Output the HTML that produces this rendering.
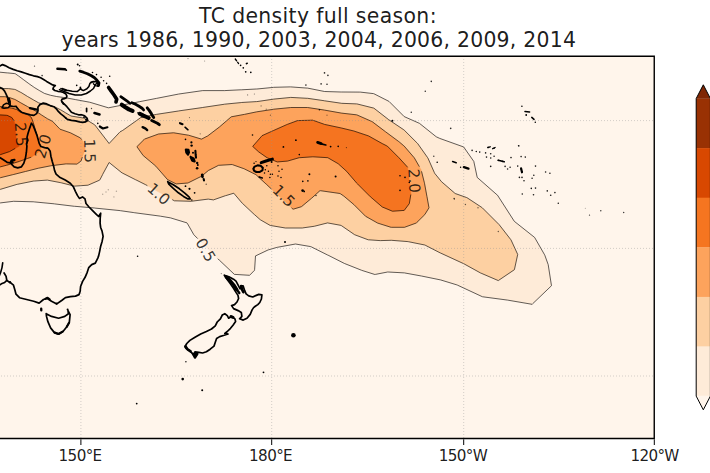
<!DOCTYPE html>
<html><head><meta charset="utf-8"><title>TC density full season</title>
<style>html,body{margin:0;padding:0;background:#fff;overflow:hidden}body{width:710px;height:473px;position:relative}</style>
</head><body>
<svg width="710" height="473" viewBox="0 0 710 473" style="position:absolute;left:0;top:0">
<defs><clipPath id="ax"><rect x="-20" y="56.1" width="674.3" height="382.9"/></clipPath></defs>
<rect x="-20" y="56.1" width="674.3" height="382.9" fill="#fff5eb"/>
<g clip-path="url(#ax)">
<path d="M-20.0,72.2 L0.0,72.2 L7.6,72.9 L15.2,73.7 L19.0,76.3 L24.1,80.1 L29.2,83.9 L34.2,87.4 L39.3,90.5 L44.4,93.4 L50.7,95.3 L57.0,96.6 L65.9,97.8 L76.0,99.7 L90.0,102.3 L108.5,107.8 L140.0,101.6 L156.9,98.3 L178.9,94.0 L202.5,90.6 L224.5,90.6 L241.4,89.8 L256.9,89.0 L273.8,87.3 L290.7,86.9 L307.6,88.1 L324.5,91.5 L341.4,92.0 L360.3,92.1 L373.8,93.7 L389.0,101.4 L404.2,116.6 L419.4,123.3 L436.3,136.8 L440.0,138.5 L463.7,147.0 L473.8,161.4 L477.2,177.4 L497.5,195.2 L514.4,221.4 L534.6,237.4 L544.8,255.2 L548.2,264.6 L551.5,285.7 L532.1,304.3 L507.6,300.1 L482.3,296.7 L456.9,284.9 L440.0,279.8 L421.4,276.0 L404.5,272.9 L387.6,272.0 L374.9,274.5 L361.4,270.2 L344.5,263.5 L327.6,255.0 L310.7,246.6 L295.5,244.0 L276.9,247.4 L268.2,249.9 L255.5,255.9 L254.6,270.2 L249.6,275.3 L234.4,274.4 L219.2,260.1 L193.8,234.7 L187.0,222.9 L170.1,217.8 L160.0,216.1 L133.8,212.6 L120.0,210.6 L94.6,208.0 L74.4,206.3 L54.1,203.8 L33.8,201.8 L13.5,201.3 L0.0,203.0 L-20.0,205.0Z" fill="#feebd8" stroke="#feebd8" stroke-width="0.4"/>
<path d="M-20.0,88.6 L0.0,88.6 L8.5,88.6 L15.2,89.5 L21.1,92.5 L27.9,96.7 L33.8,100.1 L38.9,103.0 L54.5,106.7 L60.8,109.9 L65.9,113.0 L71.0,116.0 L83.7,118.1 L94.9,125.0 L109.1,143.5 L120.0,131.9 L123.0,130.2 L140.7,117.6 L156.9,114.3 L178.9,110.9 L202.5,107.5 L224.5,104.2 L241.4,102.5 L256.9,101.6 L273.8,99.1 L290.7,97.4 L307.6,98.3 L324.5,100.8 L341.4,103.3 L356.9,103.9 L373.8,108.1 L389.0,119.9 L404.2,130.1 L417.7,143.6 L427.9,158.0 L434.6,173.2 L441.4,181.6 L455.2,193.5 L467.0,197.7 L482.3,207.8 L499.2,224.7 L511.0,239.9 L517.7,254.5 L514.4,269.7 L498.3,280.6 L480.6,273.0 L463.7,263.7 L440.0,252.8 L424.8,245.0 L407.9,241.6 L391.0,240.3 L380.0,240.6 L368.2,239.8 L354.6,234.7 L341.1,225.4 L327.6,222.9 L314.1,226.3 L302.3,228.0 L285.4,228.0 L270.1,225.4 L260.0,219.5 L254.1,214.3 L242.3,203.3 L233.8,193.2 L225.4,195.7 L213.5,199.9 L208.2,199.1 L191.3,201.3 L174.4,200.8 L145.6,184.7 L135.5,179.7 L122.0,172.9 L109.1,162.5 L102.5,174.8 L99.7,180.1 L87.9,185.2 L74.4,186.1 L60.8,182.7 L47.3,180.1 L33.8,181.0 L16.9,184.4 L0.0,189.4 L-20.0,194.0Z" fill="#fdd0a2" stroke="#fdd0a2" stroke-width="0.4"/>
<path d="M-20.0,96.7 L0.0,96.7 L5.1,96.7 L9.3,97.5 L15.2,99.6 L21.1,103.0 L27.9,106.8 L35.5,111.0 L41.4,114.9 L47.3,118.7 L52.4,121.2 L60.0,129.2 L70.6,132.9 L80.1,137.7 L82.7,140.8 L85.3,149.3 L82.0,158.0 L81.1,161.0 L76.9,164.1 L65.9,163.9 L50.7,165.8 L38.0,168.3 L25.4,171.5 L12.7,174.7 L0.0,177.8 L-20.0,182.0Z" fill="#fda35c" stroke="#fda35c" stroke-width="0.4"/>
<path d="M136.9,146.7 L144.5,139.1 L158.5,134.0 L173.7,132.8 L188.9,135.3 L201.6,139.1 L207.6,136.0 L219.4,127.0 L231.3,116.8 L244.8,114.3 L256.9,111.8 L273.8,109.2 L290.7,107.5 L307.6,107.5 L324.5,110.1 L341.4,113.1 L356.9,114.9 L372.1,121.6 L385.6,131.8 L399.2,141.9 L404.2,146.1 L414.4,158.0 L421.1,169.8 L424.5,183.3 L427.0,196.8 L429.0,207.8 L424.8,214.6 L416.3,223.0 L404.5,227.3 L391.0,227.3 L377.5,223.0 L365.6,216.3 L353.8,204.5 L343.7,196.0 L340.0,193.5 L320.0,190.6 L311.5,198.3 L301.4,206.7 L293.0,209.2 L265.9,183.9 L255.8,174.6 L243.9,168.7 L232.1,164.5 L218.6,165.3 L208.5,170.4 L201.4,176.3 L187.9,183.0 L176.1,183.9 L167.6,179.7 L155.8,166.1 L143.2,155.6Z" fill="#fda35c" stroke="#fda35c" stroke-width="0.4"/>
<path d="M-20.0,106.6 L0.0,106.6 L5.1,107.2 L8.0,107.5 L12.1,108.2 L16.8,109.6 L19.5,111.6 L23.6,113.6 L28.3,115.0 L31.0,117.0 L32.3,119.7 L33.4,123.0 L36.0,132.0 L38.5,139.0 L40.6,146.6 L40.2,150.4 L35.5,154.5 L31.7,157.0 L27.2,158.6 L19.0,161.5 L12.7,163.4 L6.3,165.3 L0.0,166.9 L-20.0,171.0Z" fill="#f57520" stroke="#f57520" stroke-width="0.4"/>
<path d="M252.7,146.4 L262.0,135.7 L273.8,130.4 L287.3,124.4 L297.5,120.6 L312.7,120.2 L324.5,124.4 L341.4,128.0 L353.5,130.9 L368.7,136.0 L382.3,143.6 L387.3,146.1 L399.2,158.0 L407.6,167.3 L411.0,193.5 L409.3,203.6 L404.2,210.4 L392.4,211.2 L382.3,207.0 L370.4,196.8 L356.9,183.3 L346.8,171.5 L338.0,163.6 L327.9,157.7 L312.7,156.8 L299.2,157.7 L287.3,161.1 L277.2,161.9 L267.0,157.7 L258.6,151.8Z" fill="#f57520" stroke="#f57520" stroke-width="0.4"/>
<path d="M-20.0,114.9 L0.0,114.9 L7.1,115.3 L11.8,117.5 L14.2,121.0 L15.2,125.8 L15.6,134.0 L16.5,141.0 L19.2,146.2 L9.5,151.6 L0.0,154.8 L-20.0,160.0Z" fill="#d84801" stroke="#d84801" stroke-width="0.4"/>
<g fill="none" stroke="#000" stroke-width="0.8" stroke-opacity="0.78" stroke-linejoin="round">
<path d="M-20.0,72.2 L-0.5,72.2 L0.0,72.2 L0.0,72.2 L7.1,72.9 L7.6,72.9 L7.6,72.9 L14.7,73.6 L15.2,73.7 L15.2,73.7 L18.6,76.0 L19.0,76.3 L19.0,76.3 L23.7,79.8 L24.1,80.1 L24.1,80.1 L28.8,83.6 L29.2,83.9 L29.2,83.9 L33.8,87.1 L34.2,87.4 L34.2,87.4 L38.8,90.2 L39.3,90.5 L39.3,90.5 L43.9,93.1 L44.4,93.4 L44.4,93.4 L50.2,95.2 L50.7,95.3 L50.7,95.3 L56.5,96.5 L57.0,96.6 L57.0,96.6 L65.4,97.7 L65.9,97.8 L65.9,97.8 L75.5,99.6 L76.0,99.7 L76.0,99.7 L89.5,102.2 L90.0,102.3 L90.0,102.3 L108.0,107.7 L108.5,107.8 L108.5,107.8 L139.5,101.7 L140.0,101.6 L140.0,101.6 L156.4,98.4 L156.9,98.3 L156.9,98.3 L178.4,94.1 L178.9,94.0 L178.9,94.0 L202.0,90.7 L202.5,90.6 L202.5,90.6 L224.0,90.6 L224.5,90.6 L224.5,90.6 L240.9,89.8 L241.4,89.8 L241.4,89.8 L256.4,89.0 L256.9,89.0 L256.9,89.0 L273.3,87.4 L273.8,87.3 L273.8,87.3 L290.2,86.9 L290.7,86.9 L290.7,86.9 L307.1,88.1 L307.6,88.1 L307.6,88.1 L324.0,91.4 L324.5,91.5 L324.5,91.5 L340.9,92.0 L341.4,92.0 L341.4,92.0 L359.8,92.1 L360.3,92.1 L360.3,92.1 L373.3,93.6 L373.8,93.7 L373.8,93.7 L388.6,101.2 L389.0,101.4 L389.0,101.4 L403.8,116.2 L404.2,116.6 L404.2,116.6 L418.9,123.1 L419.4,123.3 L419.4,123.3 L435.9,136.5 L436.3,136.8 L436.3,136.8 L439.5,138.3 L440.0,138.5 L440.0,138.5 L463.2,146.8 L463.7,147.0 L463.7,147.0 L473.5,161.0 L473.8,161.4 L473.8,161.4 L477.1,176.9 L477.2,177.4 L477.2,177.4 L497.1,194.9 L497.5,195.2 L497.5,195.2 L514.1,221.0 L514.4,221.4 L514.4,221.4 L534.2,237.1 L534.6,237.4 L534.6,237.4 L544.6,254.8 L544.8,255.2 L544.8,255.2 L548.0,264.1 L548.2,264.6 L548.2,264.6 L551.4,285.2 L551.5,285.7 L551.5,285.7 L532.5,303.9 L532.1,304.3 L532.1,304.3 L508.1,300.2 L507.6,300.1 L507.6,300.1 L482.8,296.8 L482.3,296.7 L482.3,296.7 L457.4,285.1 L456.9,284.9 L456.9,284.9 L440.5,279.9 L440.0,279.8 L440.0,279.8 L421.9,276.1 L421.4,276.0 L421.4,276.0 L405.0,273.0 L404.5,272.9 L404.5,272.9 L388.1,272.0 L387.6,272.0 L387.6,272.0 L375.4,274.4 L374.9,274.5 L374.9,274.5 L361.9,270.4 L361.4,270.2 L361.4,270.2 L345.0,263.7 L344.5,263.5 L344.5,263.5 L328.1,255.2 L327.6,255.0 L327.6,255.0 L311.2,246.8 L310.7,246.6 L310.7,246.6 L296.0,244.1 L295.5,244.0 L295.5,244.0 L277.4,247.3 L276.9,247.4 L276.9,247.4 L268.7,249.8 L268.2,249.9 L268.2,249.9 L256.0,255.7 L255.5,255.9 L255.5,255.9 L254.6,269.7 L254.6,270.2 L254.6,270.2 L250.0,274.9 L249.6,275.3 L249.6,275.3 L234.9,274.4 L234.4,274.4 L234.4,274.4 L219.6,260.4 L219.2,260.1 L219.2,260.1 L217.8,258.7 M197.7,238.6 L194.2,235.1 L193.8,234.7 L193.8,234.7 L187.3,223.3 L187.0,222.9 L187.0,222.9 L170.6,217.9 L170.1,217.8 L170.1,217.8 L160.5,216.2 L160.0,216.1 L160.0,216.1 L134.3,212.7 L133.8,212.6 L133.8,212.6 L120.5,210.7 L120.0,210.6 L120.0,210.6 L95.1,208.1 L94.6,208.0 L94.6,208.0 L74.9,206.3 L74.4,206.3 L74.4,206.3 L54.6,203.9 L54.1,203.8 L54.1,203.8 L34.3,201.9 L33.8,201.8 L33.8,201.8 L14.0,201.3 L13.5,201.3 L13.5,201.3 L0.5,202.9 L0.0,203.0 L0.0,203.0 L-19.5,204.9 L-20.0,205.0 L-20.0,205.0 L-20.0,72.7 L-20.0,72.2"/>
<path d="M-20.0,88.6 L-0.5,88.6 L0.0,88.6 L0.0,88.6 L8.0,88.6 L8.5,88.6 L8.5,88.6 L14.7,89.4 L15.2,89.5 L15.2,89.5 L20.6,92.3 L21.1,92.5 L21.1,92.5 L27.4,96.4 L27.9,96.7 L27.9,96.7 L33.3,99.8 L33.8,100.1 L33.8,100.1 L38.4,102.7 L38.9,103.0 L38.9,103.0 L54.0,106.6 L54.5,106.7 L54.5,106.7 L60.3,109.7 L60.8,109.9 L60.8,109.9 L65.4,112.7 L65.9,113.0 L65.9,113.0 L70.5,115.7 L71.0,116.0 L71.0,116.0 L83.2,118.0 L83.7,118.1 L83.7,118.1 L94.5,124.7 L94.9,125.0 L94.9,125.0 L108.8,143.1 L109.1,143.5 L109.1,143.5 L119.6,132.3 L120.0,131.9 L120.0,131.9 L122.5,130.5 L123.0,130.2 L123.0,130.2 L140.3,117.9 L140.7,117.6 L140.7,117.6 L156.4,114.4 L156.9,114.3 L156.9,114.3 L178.4,111.0 L178.9,110.9 L178.9,110.9 L202.0,107.6 L202.5,107.5 L202.5,107.5 L224.0,104.3 L224.5,104.2 L224.5,104.2 L240.9,102.6 L241.4,102.5 L241.4,102.5 L256.4,101.6 L256.9,101.6 L256.9,101.6 L273.3,99.2 L273.8,99.1 L273.8,99.1 L290.2,97.5 L290.7,97.4 L290.7,97.4 L307.1,98.3 L307.6,98.3 L307.6,98.3 L324.0,100.7 L324.5,100.8 L324.5,100.8 L340.9,103.2 L341.4,103.3 L341.4,103.3 L356.4,103.9 L356.9,103.9 L356.9,103.9 L373.3,108.0 L373.8,108.1 L373.8,108.1 L388.6,119.6 L389.0,119.9 L389.0,119.9 L403.8,129.8 L404.2,130.1 L404.2,130.1 L417.3,143.2 L417.7,143.6 L417.7,143.6 L427.6,157.6 L427.9,158.0 L427.9,158.0 L434.4,172.7 L434.6,173.2 L434.6,173.2 L441.1,181.2 L441.4,181.6 L441.4,181.6 L454.8,193.2 L455.2,193.5 L455.2,193.5 L466.5,197.5 L467.0,197.7 L467.0,197.7 L481.9,207.5 L482.3,207.8 L482.3,207.8 L498.8,224.3 L499.2,224.7 L499.2,224.7 L510.7,239.5 L511.0,239.9 L511.0,239.9 L517.5,254.0 L517.7,254.5 L517.7,254.5 L514.5,269.2 L514.4,269.7 L514.4,269.7 L498.7,280.3 L498.3,280.6 L498.3,280.6 L481.1,273.2 L480.6,273.0 L480.6,273.0 L464.1,263.9 L463.7,263.7 L463.7,263.7 L440.5,253.0 L440.0,252.8 L440.0,252.8 L425.2,245.2 L424.8,245.0 L424.8,245.0 L408.4,241.7 L407.9,241.6 L407.9,241.6 L391.5,240.3 L391.0,240.3 L391.0,240.3 L380.5,240.6 L380.0,240.6 L380.0,240.6 L368.7,239.8 L368.2,239.8 L368.2,239.8 L355.1,234.9 L354.6,234.7 L354.6,234.7 L341.5,225.7 L341.1,225.4 L341.1,225.4 L328.1,223.0 L327.6,222.9 L327.6,222.9 L314.6,226.2 L314.1,226.3 L314.1,226.3 L302.8,227.9 L302.3,228.0 L302.3,228.0 L285.9,228.0 L285.4,228.0 L285.4,228.0 L270.6,225.5 L270.1,225.4 L270.1,225.4 L260.4,219.8 L260.0,219.5 L260.0,219.5 L254.5,214.6 L254.1,214.3 L254.1,214.3 L242.7,203.6 L242.3,203.3 L242.3,203.3 L234.1,193.6 L233.8,193.2 L233.8,193.2 L225.9,195.6 L225.4,195.7 L225.4,195.7 L214.0,199.7 L213.5,199.9 L213.5,199.9 L208.7,199.2 L208.2,199.1 L208.2,199.1 L191.8,201.2 L191.3,201.3 L191.3,201.3 L174.9,200.8 L174.4,200.8 L174.4,200.8 L172.2,199.6 M147.4,185.7 L146.0,184.9 L145.6,184.7 L145.6,184.7 L136.0,179.9 L135.5,179.7 L135.5,179.7 L122.5,173.1 L122.0,172.9 L122.0,172.9 L109.5,162.8 L109.1,162.5 L109.1,162.5 L102.7,174.3 L102.5,174.8 L102.5,174.8 L100.0,179.6 L99.7,180.1 L99.7,180.1 L88.4,185.0 L87.9,185.2 L87.9,185.2 L74.9,186.1 L74.4,186.1 L74.4,186.1 L61.3,182.8 L60.8,182.7 L60.8,182.7 L47.8,180.2 L47.3,180.1 L47.3,180.1 L34.3,181.0 L33.8,181.0 L33.8,181.0 L17.4,184.3 L16.9,184.4 L16.9,184.4 L0.5,189.3 L0.0,189.4 L0.0,189.4 L-19.5,193.9 L-20.0,194.0 L-20.0,194.0 L-20.0,89.1 L-20.0,88.6"/>
<path d="M-20.0,96.7 L-0.5,96.7 L0.0,96.7 L0.0,96.7 L4.6,96.7 L5.1,96.7 L5.1,96.7 L8.8,97.4 L9.3,97.5 L9.3,97.5 L14.7,99.4 L15.2,99.6 L15.2,99.6 L20.6,102.7 L21.1,103.0 L21.1,103.0 L27.4,106.5 L27.9,106.8 L27.9,106.8 L35.1,110.8 L35.5,111.0 L35.5,111.0 L41.0,114.6 L41.4,114.9 L41.4,114.9 L46.9,118.4 L47.3,118.7 L47.3,118.7 L51.9,121.0 L52.4,121.2 L52.4,121.2 L59.7,128.8 L60.0,129.2 L60.0,129.2 L70.1,132.7 L70.6,132.9 L70.6,132.9 L79.6,137.5 L80.1,137.7 L80.1,137.7 L81.7,139.6 M82.4,157.0 L82.2,157.5 L82.0,158.0 L82.0,158.0 L81.2,160.5 L81.1,161.0 L81.1,161.0 L77.3,163.8 L76.9,164.1 L76.9,164.1 L66.4,163.9 L65.9,163.9 L65.9,163.9 L51.2,165.7 L50.7,165.8 L50.7,165.8 L38.5,168.2 L38.0,168.3 L38.0,168.3 L25.9,171.4 L25.4,171.5 L25.4,171.5 L13.2,174.6 L12.7,174.7 L12.7,174.7 L0.5,177.7 L0.0,177.8 L0.0,177.8 L-19.5,181.9 L-20.0,182.0 L-20.0,182.0 L-20.0,97.2 L-20.0,96.7"/>
<path d="M136.9,146.7 L144.1,139.5 L144.5,139.1 L144.5,139.1 L158.0,134.2 L158.5,134.0 L158.5,134.0 L173.2,132.8 L173.7,132.8 L173.7,132.8 L188.4,135.2 L188.9,135.3 L188.9,135.3 L201.1,139.0 L201.6,139.1 L201.6,139.1 L207.1,136.2 L207.6,136.0 L207.6,136.0 L219.0,127.3 L219.4,127.0 L219.4,127.0 L230.9,117.1 L231.3,116.8 L231.3,116.8 L244.3,114.4 L244.8,114.3 L244.8,114.3 L256.4,111.9 L256.9,111.8 L256.9,111.8 L273.3,109.3 L273.8,109.2 L273.8,109.2 L290.2,107.6 L290.7,107.5 L290.7,107.5 L307.1,107.5 L307.6,107.5 L307.6,107.5 L324.0,110.0 L324.5,110.1 L324.5,110.1 L340.9,113.0 L341.4,113.1 L341.4,113.1 L356.4,114.8 L356.9,114.9 L356.9,114.9 L371.6,121.4 L372.1,121.6 L372.1,121.6 L385.2,131.5 L385.6,131.8 L385.6,131.8 L398.8,141.6 L399.2,141.9 L399.2,141.9 L403.8,145.8 L404.2,146.1 L404.2,146.1 L414.1,157.6 L414.4,158.0 L414.4,158.0 L419.4,166.7 M421.5,171.3 L424.4,182.8 L424.5,183.3 L424.5,183.3 L426.9,196.3 L427.0,196.8 L427.0,196.8 L428.9,207.3 L429.0,207.8 L429.0,207.8 L425.1,214.1 L424.8,214.6 L424.8,214.6 L416.7,222.6 L416.3,223.0 L416.3,223.0 L405.0,227.1 L404.5,227.3 L404.5,227.3 L391.5,227.3 L391.0,227.3 L391.0,227.3 L378.0,223.2 L377.5,223.0 L377.5,223.0 L366.0,216.5 L365.6,216.3 L365.6,216.3 L354.2,204.9 L353.8,204.5 L353.8,204.5 L344.1,196.3 L343.7,196.0 L343.7,196.0 L340.5,193.8 L340.0,193.5 L340.0,193.5 L320.5,190.7 L320.0,190.6 L320.0,190.6 L311.9,198.0 L311.5,198.3 L311.5,198.3 L301.8,206.4 L301.4,206.7 L301.4,206.7 L293.5,209.1 L293.0,209.2 L293.0,209.2 L291.5,207.8 M271.4,189.0 L266.3,184.2 L265.9,183.9 L265.9,183.9 L256.2,174.9 L255.8,174.6 L255.8,174.6 L244.4,168.9 L243.9,168.7 L243.9,168.7 L232.6,164.7 L232.1,164.5 L232.1,164.5 L219.1,165.3 L218.6,165.3 L218.6,165.3 L209.0,170.2 L208.5,170.4 L208.5,170.4 L201.8,176.0 L201.4,176.3 L201.4,176.3 L188.3,182.8 L187.9,183.0 L187.9,183.0 L176.6,183.9 L176.1,183.9 L176.1,183.9 L168.1,179.9 L167.6,179.7 L167.6,179.7 L156.1,166.5 L155.8,166.1 L155.8,166.1 L143.6,155.9 L143.2,155.6 L143.2,155.6 L137.2,147.1 L136.9,146.7"/>
<path d="M-20.0,106.6 L-0.5,106.6 L0.0,106.6 L0.0,106.6 L4.6,107.1 L5.1,107.2 L5.1,107.2 L7.4,107.4 L8.0,107.5 L8.0,107.5 L11.6,108.1 L12.1,108.2 L12.1,108.2 L16.3,109.4 L16.8,109.6 L16.8,109.6 L19.1,111.3 L19.5,111.6 L19.5,111.6 L23.1,113.4 L23.6,113.6 L23.6,113.6 L27.8,114.8 L28.3,115.0 L28.3,115.0 L30.6,116.7 L31.0,117.0 L31.0,117.0 L32.0,119.2 L32.3,119.7 L32.3,119.7 L33.2,122.5 L33.4,123.0 L33.4,123.0 L35.9,131.5 L36.0,132.0 L36.0,132.0 L37.6,136.5 M31.2,157.2 L27.7,158.4 L27.2,158.6 L27.2,158.6 L19.5,161.3 L19.0,161.5 L19.0,161.5 L13.2,163.3 L12.7,163.4 L12.7,163.4 L6.8,165.2 L6.3,165.3 L6.3,165.3 L0.5,166.8 L0.0,166.9 L0.0,166.9 L-19.5,170.9 L-20.0,171.0 L-20.0,171.0 L-20.0,107.1 L-20.0,106.6"/>
<path d="M252.7,146.4 L261.7,136.1 L262.0,135.7 L262.0,135.7 L273.3,130.6 L273.8,130.4 L273.8,130.4 L286.8,124.6 L287.3,124.4 L287.3,124.4 L297.0,120.8 L297.5,120.6 L297.5,120.6 L312.2,120.2 L312.7,120.2 L312.7,120.2 L324.0,124.2 L324.5,124.4 L324.5,124.4 L340.9,127.9 L341.4,128.0 L341.4,128.0 L353.0,130.8 L353.5,130.9 L353.5,130.9 L368.2,135.8 L368.7,136.0 L368.7,136.0 L381.9,143.4 L382.3,143.6 L382.3,143.6 L386.8,145.9 L387.3,146.1 L387.3,146.1 L398.8,157.6 L399.2,158.0 L399.2,158.0 L407.3,166.9 L407.6,167.3 L407.6,167.3 M410.8,194.5 L409.4,203.1 L409.3,203.6 L409.3,203.6 L404.5,210.0 L404.2,210.4 L404.2,210.4 L392.9,211.2 L392.4,211.2 L392.4,211.2 L382.8,207.2 L382.3,207.0 L382.3,207.0 L370.8,197.1 L370.4,196.8 L370.4,196.8 L357.3,183.7 L356.9,183.3 L356.9,183.3 L347.1,171.9 L346.8,171.5 L346.8,171.5 L338.4,163.9 L338.0,163.6 L338.0,163.6 L328.3,158.0 L327.9,157.7 L327.9,157.7 L313.2,156.8 L312.7,156.8 L312.7,156.8 L299.7,157.7 L299.2,157.7 L299.2,157.7 L287.8,161.0 L287.3,161.1 L287.3,161.1 L277.7,161.9 L277.2,161.9 L277.2,161.9 L267.5,157.9 L267.0,157.7 L267.0,157.7 L259.0,152.1 L258.6,151.8 L258.6,151.8 L253.1,146.8 L252.7,146.4"/>
<path d="M-20.0,114.9 L-0.5,114.9 L0.0,114.9 L0.0,114.9 L6.6,115.3 L7.1,115.3 L7.1,115.3 L11.3,117.3 L11.8,117.5 L11.8,117.5 L13.9,120.6 L14.2,121.0 L14.2,121.0 M15.2,148.4 L9.9,151.4 L9.5,151.6 L9.5,151.6 L0.5,154.6 L0.0,154.8 L0.0,154.8 L-19.5,159.9 L-20.0,160.0 L-20.0,160.0 L-20.0,115.4 L-20.0,114.9"/>
</g>
<g stroke="#909090" stroke-width="0.8" stroke-dasharray="1 2" fill="none" opacity="0.5">
<path d="M80.9,56 V439"/>
<path d="M271.7,56 V439"/>
<path d="M463.7,56 V439"/>
<path d="M-20,120.6 H654"/>
<path d="M-20,248.4 H654"/>
<path d="M-20,376.0 H654"/>
</g>
<g fill="none" stroke="#000" stroke-linejoin="round" stroke-linecap="round">
<path d="M-3.0,67.2 L0.0,65.9 L2.5,64.6 L5.1,65.6 L9.1,67.7 L13.2,69.4 L17.2,70.7 L21.3,71.9 L25.4,73.2 L29.4,74.6 L33.5,75.8 L37.5,76.6 L40.6,77.8 L43.6,79.5 L46.6,81.4 L49.7,83.2 L52.7,84.9 L55.3,85.6 L53.7,86.9 L52.9,89.0 L54.8,90.5 L57.8,91.3 L60.8,91.7 L63.4,92.5 L65.9,94.0 L66.9,96.1 L66.4,97.8 L64.4,98.6 L62.1,99.1 L61.4,100.6 L62.4,102.6 L63.4,104.0" stroke-width="1.70"/>
<path d="M62.4,102.1 L63.8,103.7 L66.9,106.7 L69.4,109.7 L71.4,112.3 L75.0,113.8 L78.5,114.8 L81.6,114.8 L84.6,115.8 L87.2,118.4 L87.7,120.6 L85.6,121.9 L82.6,122.4 L79.5,121.9 L75.5,120.9 L71.4,120.4 L67.4,119.4 L65.9,118.2" stroke-width="1.70"/>
<path d="M-3.0,86.5 L0.0,87.5 L2.5,88.6 L4.6,91.1 L6.1,94.1 L7.6,97.7 L9.1,100.2 L10.1,103.3 L10.1,105.9 L13.4,106.5 L16.1,106.3 L16.9,107.6 L18.8,109.8 L21.5,112.2 L25.6,113.5 L30.3,114.9 L33.9,115.4 L36.6,113.6 L38.0,110.8 L37.9,107.3 L39.9,104.6 L43.3,103.1 L46.7,103.9 L50.1,105.6 L53.8,106.7 L56.3,108.8 L58.3,111.4 L60.8,113.9 L63.4,115.9 L65.9,118.2" stroke-width="1.70"/>
<path d="M8.6,99.2 L9.3,101.7" stroke-width="3.20"/>
<path d="M2.0,107.8 L3.5,104.8 L6.1,103.3 L8.6,103.8 L10.1,105.8 L8.1,107.8 L4.1,108.3 L2.0,107.8" stroke-width="1.53"/>
<path d="M29.9,108.1 L33.5,108.9 L37.0,109.6" stroke-width="2.20"/>
<path d="M57.5,68.8 L65.0,69.2" stroke-width="2.60"/>
<path d="M79.8,71.2 L83.3,72.2 L87.4,73.7 L91.4,75.8 L94.5,77.8 L97.0,80.3 L99.0,82.9 L98.5,85.6" stroke-width="2.80"/>
<path d="M59.5,89.6 L64.1,91.5 L69.1,93.5 L75.2,95.0 L81.3,95.0 L86.4,93.5 L90.4,91.0 L93.5,88.5 L95.0,85.4 L96.5,83.4 L99.0,82.9" stroke-width="1.53"/>
<path d="M62.0,88.6 L67.1,90.3 L72.2,91.3 L77.2,91.6 L80.3,89.0 L80.3,87.2 L81.2,89.5 L83.3,90.6 L86.9,88.8 L88.9,86.4 L89.9,83.4 L92.5,81.9 L95.5,81.4 L99.0,82.6" stroke-width="1.53"/>
<path d="M60.8,88.5 L64.9,90.4 L67.0,90.6" stroke-width="1.36"/>
<path d="M90.6,82.4 L93.2,81.4 L96.2,81.6 L98.6,83.4 L97.6,86.2 L95.2,85.6 L93.4,83.8" stroke-width="1.36"/>
<path d="M108.6,87.5 L111.2,91.1 L114.2,95.2 L116.7,99.2 L116.0,102.0" stroke-width="3.60"/>
<path d="M120.8,96.7 L124.3,99.2 L127.9,101.7 L129.9,103.3" stroke-width="2.70"/>
<path d="M121.8,104.8 L125.4,107.3 L128.9,109.4 L132.5,110.9" stroke-width="4.20"/>
<path d="M131.9,102.8 L135.5,104.3 L139.0,106.3 L142.1,108.3 L143.6,109.9" stroke-width="2.80"/>
<path d="M147.2,107.8 L149.2,110.4 L151.2,113.4 L152.7,115.9 L153.7,117.5" stroke-width="2.90"/>
<path d="M139.8,113.8 L143.4,115.6 L146.6,117.0 L148.7,118.0" stroke-width="4.00"/>
<path d="M151.7,120.5 L154.8,122.0 L157.8,123.5 L159.3,124.6" stroke-width="3.00"/>
<path d="M142.6,127.1 L145.6,128.6 L147.2,130.1" stroke-width="2.30"/>
<path d="M86.6,108.4 L86.6,111.6" stroke-width="1.70"/>
<path d="M94.5,113.0 L99.5,114.4" stroke-width="2.60"/>
<path d="M99.8,126.5 L102.9,128.5 L107.4,127.3" stroke-width="2.20"/>
<path d="M180.0,123.2 L182.5,124.2" stroke-width="2.20"/>
<path d="M185.0,127.2 L188.0,129.8" stroke-width="1.53"/>
<path d="M185.9,149.6 L186.4,152.6 L188.0,154.6 L188.9,152.4 L188.4,150.0 L185.9,149.6" stroke-width="2.30"/>
<path d="M195.4,150.8 L195.6,154.2 L196.0,157.6" stroke-width="2.10"/>
<path d="M190.6,157.0 L192.2,160.6 L194.6,161.4 L193.6,158.4 L190.6,157.0" stroke-width="2.20"/>
<path d="M202.2,174.8 L202.5,176.8" stroke-width="2.70"/>
<path d="M203.7,179.0 L204.0,180.4" stroke-width="2.10"/>
<path d="M167.7,181.7 L173.3,184.7 L179.4,188.8 L184.5,192.8 L189.0,196.9 L190.3,198.9 L188.0,198.9 L183.5,196.4 L178.4,192.8 L173.3,188.3 L168.8,184.2 L167.7,181.7" stroke-width="1.66"/>
<path d="M-5.0,156.5 L0.0,157.7 L1.0,158.3 L4.1,160.3 L7.1,162.3 L10.6,162.8 L11.7,164.3 L14.2,166.9 L17.7,167.9 L21.3,166.9 L23.8,163.3 L25.4,158.3 L26.4,152.2 L26.9,146.1 L26.5,143.9 L27.9,140.2 L27.0,137.4 L27.9,133.7 L29.7,128.1 L31.4,123.2 L33.0,125.3 L34.9,129.9 L36.7,134.6 L38.1,139.2 L39.2,143.4 L40.9,146.5 L44.6,147.6 L48.3,148.5 L50.2,151.3 L50.9,156.2 L52.2,161.3 L53.7,166.4 L54.6,170.6 L56.1,174.1 L60.1,177.6 L65.2,180.1 L70.3,183.2 L73.3,186.7 L75.4,191.3 L77.4,195.4 L79.4,198.4 L82.5,196.9 L85.0,198.9 L86.0,203.5 L89.0,207.0 L92.6,210.6 L96.1,214.1 L98.6,216.5 L100.7,213.2 L100.2,218.1 L100.1,223.2 L100.6,227.2 L102.1,231.3 L103.1,236.4 L102.1,241.4 L100.6,246.5 L99.6,251.6 L98.7,255.6 L97.8,258.1 L95.3,263.1 L91.7,264.6 L88.7,267.7 L87.2,272.3 L85.1,277.3 L82.6,281.4 L80.6,286.5 L80.1,291.5 L79.0,294.6 L75.5,296.1 L70.4,296.6 L65.4,297.6 L62.0,300.2 L56.8,303.9 L51.5,301.3 L47.1,298.3 L43.5,299.5 L39.1,303.1 L33.7,301.3 L26.6,299.5 L19.5,297.7 L16.0,294.2 L14.9,290.0 L13.5,285.2 L10.1,282.4 L6.8,280.4 L6.1,276.4 L4.1,273.0" stroke-width="1.70"/>
<path d="M2.7,262.8 L2.0,267.6 L0.7,272.3 L-1.0,276.5" stroke-width="1.61"/>
<path d="M6.8,280.4 L4.7,282.4 L1.4,283.8 L-1.0,285.6" stroke-width="1.61"/>
<path d="M10.8,162.6 L11.6,160.4 L14.4,160.0" stroke-width="2.40"/>
<path d="M41.2,308.6 L41.3,310.4" stroke-width="2.30"/>
<path d="M45.6,298.8 L47.6,297.9 L49.6,299.4" stroke-width="2.30"/>
<path d="M54.6,332.6 L58.6,334.0 L62.6,331.6" stroke-width="2.20"/>
<path d="M66.8,326.8 L69.0,322.8" stroke-width="2.10"/>
<path d="M46.2,313.7 L51.5,316.4 L58.6,318.2 L64.8,316.4 L68.4,313.7 L68.0,310.6 L70.1,314.6 L69.3,322.6 L66.6,327.0 L63.0,331.5 L58.6,334.1 L54.2,332.4 L50.6,327.9 L47.9,321.7 L46.5,316.4 L46.2,313.7" stroke-width="1.70"/>
<path d="M224.3,275.2 L227.4,279.7 L230.4,283.8 L233.5,288.3 L236.0,292.4 L238.0,295.4 L238.6,298.5 L237.0,302.0 L234.5,304.6 L231.6,305.6 L233.6,308.6 L238.1,310.6 L241.3,312.5 L241.9,316.3 L239.6,318.8 L243.2,320.1 L247.0,318.2 L250.2,314.4 L252.1,309.9 L253.6,307.6 L255.3,306.3 L257.8,304.6 L259.8,302.5 L261.4,299.0 L261.9,294.9 L258.8,294.4 L256.3,295.4 L252.7,297.0 L248.7,295.9 L246.1,293.9 L244.6,290.4 L243.1,285.8 L241.1,285.8 L240.1,288.8 L238.0,284.8 L236.0,281.2 L233.5,279.2 L228.9,276.7 L224.3,275.2" stroke-width="1.70"/>
<path d="M226.3,277.0 L230.3,280.8 L233.8,285.0 L236.8,289.6" stroke-width="3.30"/>
<path d="M236.8,289.6 L239.3,293.0" stroke-width="2.40"/>
<path d="M241.2,286.0 L242.0,289.4 L243.4,292.2" stroke-width="2.70"/>
<path d="M222.3,315.0 L224.8,313.7 L227.3,315.6 L228.6,318.2 L231.8,316.3 L234.9,318.8 L235.6,321.4 L233.0,325.2 L230.5,328.3 L227.3,331.5 L224.8,333.4 L228.0,334.0 L224.2,335.3 L219.7,336.6 L216.6,338.5 L215.3,342.3 L214.0,346.1 L210.2,349.2 L206.4,351.8 L202.6,353.0 L198.8,352.4 L195.0,351.8 L193.7,354.9 L191.8,353.0 L189.3,350.5 L186.1,348.6 L184.9,346.7 L186.8,343.5 L189.9,340.4 L195.0,337.2 L200.7,334.0 L206.4,331.5 L211.5,329.0 L215.3,325.8 L217.2,322.0 L220.4,318.8 L222.3,315.0" stroke-width="1.70"/>
<path d="M231.0,316.6 L233.0,317.4" stroke-width="3.00"/>
<path d="M192.8,353.6 L197.4,353.8 L195.0,357.6 L192.8,353.6" stroke-width="2.30"/>
<path d="M185.6,346.4 L187.6,349.4 L190.6,351.4" stroke-width="2.60"/>
<path d="M253.4,168.8 L254.6,166.6 L257.6,165.4 L260.6,165.8 L262.8,167.8 L262.4,170.4 L259.8,171.9 L256.4,172.0 L254.2,170.8 L253.4,168.8" stroke-width="2.10"/>
<path d="M261.2,162.7 L266.0,161.0 L272.4,159.1" stroke-width="3.00"/>
<path d="M259.2,176.9 L262.3,177.9" stroke-width="1.53"/>
<path d="M317.6,142.4 L321.2,143.6" stroke-width="2.80"/>
<path d="M322.2,144.2 L325.8,145.0" stroke-width="1.70"/>
<path d="M235.3,59.0 L236.6,60.8" stroke-width="1.36"/>
<path d="M237.6,62.2 L238.6,63.6" stroke-width="1.27"/>
<path d="M452.6,161.6 L456.2,162.8" stroke-width="1.53"/>
<path d="M463.9,167.2 L468.4,168.6" stroke-width="2.40"/>
<path d="M525.0,111.6 L529.6,112.0" stroke-width="1.53"/>
<path d="M531.8,117.4 L534.0,119.4" stroke-width="1.53"/>
<path d="M498.3,160.2 L504.2,161.7" stroke-width="1.70"/>
<path d="M521.1,168.4 L522.0,172.3" stroke-width="2.20"/>
<path d="M487.8,147.5 L490.2,146.8" stroke-width="1.36"/>
<path d="M492.7,148.7 L495.1,147.5" stroke-width="1.36"/>
</g><g fill="#000">
<circle cx="86.4" cy="119.8" r="1.30"/>
<circle cx="84.0" cy="117.2" r="0.90"/>
<circle cx="66.3" cy="70.2" r="0.90"/>
<circle cx="34.5" cy="66.1" r="0.70" opacity="0.70"/>
<circle cx="42.1" cy="75.6" r="0.80" opacity="0.80"/>
<circle cx="77.7" cy="64.6" r="1.00"/>
<circle cx="79.5" cy="65.8" r="0.80"/>
<circle cx="92.5" cy="72.5" r="0.80"/>
<circle cx="96.5" cy="74.6" r="0.80"/>
<circle cx="101.1" cy="77.3" r="0.80"/>
<circle cx="103.6" cy="80.8" r="0.80"/>
<circle cx="106.6" cy="83.4" r="0.80"/>
<circle cx="109.7" cy="76.3" r="0.80"/>
<circle cx="76.7" cy="85.4" r="0.80"/>
<circle cx="98.2" cy="85.6" r="1.20"/>
<circle cx="138.0" cy="112.9" r="0.80"/>
<circle cx="97.8" cy="123.4" r="0.80"/>
<circle cx="91.5" cy="108.5" r="0.70" opacity="0.70"/>
<circle cx="189.5" cy="117.6" r="0.60" opacity="0.50"/>
<circle cx="200.2" cy="133.8" r="0.60" opacity="0.50"/>
<circle cx="185.5" cy="139.4" r="0.80"/>
<circle cx="191.4" cy="142.4" r="1.10"/>
<circle cx="191.6" cy="145.6" r="1.20"/>
<circle cx="187.3" cy="151.8" r="1.20"/>
<circle cx="193.0" cy="152.8" r="1.00"/>
<circle cx="192.8" cy="159.4" r="1.00"/>
<circle cx="197.2" cy="162.9" r="1.20"/>
<circle cx="197.8" cy="164.9" r="1.00"/>
<circle cx="197.1" cy="168.3" r="1.30"/>
<circle cx="206.2" cy="184.2" r="0.70" opacity="0.60"/>
<circle cx="191.8" cy="200.0" r="0.80"/>
<circle cx="185.5" cy="186.2" r="0.90"/>
<circle cx="189.5" cy="188.8" r="1.10"/>
<circle cx="194.6" cy="192.8" r="0.90"/>
<circle cx="137.6" cy="256.2" r="0.80"/>
<circle cx="285.0" cy="242.0" r="1.00"/>
<circle cx="293.4" cy="335.2" r="2.30"/>
<circle cx="185.9" cy="361.8" r="0.70"/>
<circle cx="182.7" cy="379.1" r="1.30"/>
<circle cx="202.2" cy="390.3" r="1.00"/>
<circle cx="263.5" cy="372.3" r="0.90"/>
<circle cx="136.7" cy="403.6" r="0.90"/>
<circle cx="10.0" cy="282.2" r="1.20"/>
<circle cx="12.4" cy="162.2" r="1.20"/>
<circle cx="102.7" cy="194.3" r="0.70" opacity="0.30"/>
<circle cx="108.3" cy="189.8" r="0.70" opacity="0.30"/>
<circle cx="113.9" cy="196.9" r="0.70" opacity="0.30"/>
<circle cx="116.4" cy="191.3" r="0.70" opacity="0.30"/>
<circle cx="106.0" cy="192.0" r="0.70" opacity="0.30"/>
<circle cx="67.6" cy="309.6" r="1.00"/>
<circle cx="56.6" cy="303.6" r="1.10"/>
<circle cx="221.3" cy="273.6" r="0.60" opacity="0.50"/>
<circle cx="271.6" cy="161.9" r="1.00"/>
<circle cx="254.1" cy="163.2" r="0.80"/>
<circle cx="256.0" cy="161.6" r="0.60"/>
<circle cx="266.8" cy="165.7" r="0.75"/>
<circle cx="265.3" cy="169.8" r="0.75"/>
<circle cx="270.4" cy="174.3" r="0.75"/>
<circle cx="269.9" cy="177.4" r="0.75"/>
<circle cx="278.0" cy="165.7" r="0.75"/>
<circle cx="279.0" cy="171.3" r="0.75"/>
<circle cx="282.0" cy="169.3" r="0.75"/>
<circle cx="278.0" cy="175.9" r="0.75"/>
<circle cx="281.0" cy="177.4" r="0.75"/>
<circle cx="272.4" cy="174.3" r="0.75"/>
<circle cx="264.5" cy="173.0" r="0.75"/>
<circle cx="268.4" cy="171.2" r="0.75"/>
<circle cx="309.4" cy="174.3" r="1.00"/>
<circle cx="302.8" cy="181.4" r="0.80"/>
<circle cx="307.9" cy="180.9" r="0.80"/>
<circle cx="302.6" cy="190.6" r="1.30"/>
<circle cx="304.2" cy="191.4" r="0.90"/>
<circle cx="316.0" cy="195.6" r="0.70"/>
<circle cx="299.3" cy="154.6" r="0.80"/>
<circle cx="295.9" cy="140.2" r="0.90"/>
<circle cx="252.5" cy="135.0" r="0.80"/>
<circle cx="283.4" cy="146.9" r="0.90"/>
<circle cx="335.6" cy="176.4" r="1.00"/>
<circle cx="330.6" cy="146.6" r="0.90"/>
<circle cx="338.2" cy="146.4" r="0.80"/>
<circle cx="346.4" cy="147.6" r="0.60" opacity="0.60"/>
<circle cx="240.6" cy="65.3" r="0.85"/>
<circle cx="246.5" cy="63.6" r="0.85"/>
<circle cx="243.3" cy="67.8" r="0.85"/>
<circle cx="245.7" cy="71.8" r="0.85"/>
<circle cx="250.8" cy="72.3" r="0.85"/>
<circle cx="247.2" cy="63.2" r="0.80"/>
<circle cx="247.6" cy="94.9" r="0.60" opacity="0.50"/>
<circle cx="254.4" cy="94.0" r="0.60" opacity="0.50"/>
<circle cx="261.1" cy="105.9" r="0.60" opacity="0.50"/>
<circle cx="266.2" cy="109.2" r="0.60" opacity="0.50"/>
<circle cx="270.4" cy="115.2" r="0.60" opacity="0.50"/>
<circle cx="327.0" cy="115.2" r="0.60" opacity="0.50"/>
<circle cx="305.9" cy="85.1" r="0.80" opacity="0.85"/>
<circle cx="321.1" cy="83.9" r="0.80" opacity="0.85"/>
<circle cx="327.0" cy="84.2" r="0.80" opacity="0.85"/>
<circle cx="324.5" cy="72.9" r="0.80" opacity="0.85"/>
<circle cx="327.9" cy="75.4" r="0.80" opacity="0.85"/>
<circle cx="319.4" cy="109.7" r="0.80" opacity="0.85"/>
<circle cx="431.3" cy="81.4" r="0.80" opacity="0.80"/>
<circle cx="425.3" cy="91.2" r="0.80" opacity="0.80"/>
<circle cx="411.3" cy="112.3" r="0.80" opacity="0.80"/>
<circle cx="450.7" cy="128.4" r="0.80" opacity="0.80"/>
<circle cx="392.4" cy="120.8" r="1.00"/>
<circle cx="188.0" cy="58.6" r="0.60" opacity="0.50"/>
<circle cx="204.6" cy="61.0" r="0.60" opacity="0.40"/>
<circle cx="400.0" cy="175.7" r="0.80"/>
<circle cx="405.0" cy="177.4" r="0.80"/>
<circle cx="409.3" cy="182.5" r="0.80"/>
<circle cx="400.0" cy="190.4" r="0.80"/>
<circle cx="454.1" cy="198.5" r="0.70" opacity="0.70"/>
<circle cx="433.8" cy="156.3" r="0.70" opacity="0.80"/>
<circle cx="437.2" cy="162.2" r="0.80"/>
<circle cx="460.6" cy="167.2" r="0.70"/>
<circle cx="454.4" cy="199.0" r="0.70" opacity="0.60"/>
<circle cx="465.4" cy="204.5" r="0.70" opacity="0.60"/>
<circle cx="478.0" cy="207.8" r="0.70" opacity="0.60"/>
<circle cx="498.3" cy="231.5" r="0.70" opacity="0.60"/>
<circle cx="521.9" cy="106.2" r="0.80"/>
<circle cx="526.2" cy="115.0" r="0.90"/>
<circle cx="535.3" cy="122.3" r="0.80"/>
<circle cx="472.1" cy="150.4" r="0.80" opacity="0.90"/>
<circle cx="476.3" cy="151.5" r="0.80" opacity="0.90"/>
<circle cx="479.7" cy="152.1" r="0.80" opacity="0.90"/>
<circle cx="488.2" cy="147.5" r="0.80" opacity="0.90"/>
<circle cx="494.1" cy="148.2" r="0.80" opacity="0.90"/>
<circle cx="485.6" cy="152.9" r="0.80" opacity="0.90"/>
<circle cx="490.7" cy="153.7" r="0.80" opacity="0.90"/>
<circle cx="486.5" cy="157.1" r="0.80" opacity="0.90"/>
<circle cx="490.7" cy="158.0" r="0.80" opacity="0.90"/>
<circle cx="494.1" cy="156.3" r="0.80" opacity="0.90"/>
<circle cx="498.3" cy="160.5" r="0.80" opacity="0.90"/>
<circle cx="502.5" cy="161.4" r="0.80" opacity="0.90"/>
<circle cx="490.7" cy="166.4" r="0.80" opacity="0.90"/>
<circle cx="505.1" cy="166.4" r="0.80" opacity="0.90"/>
<circle cx="507.6" cy="169.0" r="0.80" opacity="0.90"/>
<circle cx="510.1" cy="167.3" r="0.80" opacity="0.90"/>
<circle cx="511.0" cy="157.6" r="0.80" opacity="0.90"/>
<circle cx="518.6" cy="145.8" r="0.80" opacity="0.90"/>
<circle cx="521.1" cy="156.6" r="0.80" opacity="0.90"/>
<circle cx="525.3" cy="157.1" r="0.80" opacity="0.90"/>
<circle cx="517.7" cy="166.1" r="0.80" opacity="0.90"/>
<circle cx="521.1" cy="169.0" r="0.80" opacity="0.90"/>
<circle cx="522.0" cy="171.8" r="0.80" opacity="0.90"/>
<circle cx="535.5" cy="166.1" r="0.80" opacity="0.90"/>
<circle cx="519.4" cy="177.4" r="0.80" opacity="0.90"/>
<circle cx="522.0" cy="177.4" r="0.80" opacity="0.90"/>
<circle cx="524.0" cy="180.8" r="0.80" opacity="0.90"/>
<circle cx="533.8" cy="175.2" r="0.80" opacity="0.90"/>
<circle cx="532.1" cy="178.3" r="0.80" opacity="0.90"/>
<circle cx="545.6" cy="172.0" r="0.80" opacity="0.90"/>
<circle cx="549.9" cy="173.2" r="0.80" opacity="0.90"/>
<circle cx="535.5" cy="188.1" r="0.80" opacity="0.90"/>
<circle cx="531.3" cy="188.4" r="0.80" opacity="0.90"/>
<circle cx="522.3" cy="194.0" r="0.80" opacity="0.90"/>
<circle cx="533.5" cy="194.8" r="0.80" opacity="0.90"/>
<circle cx="547.3" cy="190.9" r="0.80" opacity="0.90"/>
<circle cx="550.7" cy="195.2" r="0.80" opacity="0.90"/>
<circle cx="554.9" cy="192.6" r="0.80" opacity="0.90"/>
<circle cx="558.3" cy="203.3" r="0.80" opacity="0.90"/>
<circle cx="518.9" cy="145.9" r="0.70" opacity="0.70"/>
<circle cx="589.5" cy="215.1" r="0.70" opacity="0.80"/>
<circle cx="600.8" cy="210.8" r="0.70" opacity="0.80"/>
<circle cx="623.7" cy="212.5" r="0.70" opacity="0.80"/>
<circle cx="585.3" cy="208.3" r="0.50" opacity="0.40"/>
</g>
</g>
<path d="M-20,56.25 H654.25 V438.55 H-20" fill="none" stroke="#000" stroke-width="1.4"/>
<path d="M80.9,439.3 V445.0" stroke="#000" stroke-width="1.0"/>
<path d="M271.7,439.3 V445.0" stroke="#000" stroke-width="1.0"/>
<path d="M463.7,439.3 V445.0" stroke="#000" stroke-width="1.0"/>
<path d="M654.3,439.3 V445.0" stroke="#000" stroke-width="1.0"/>
<g>
<rect x="696.2" y="98.50" width="15.2" height="49.90" fill="#993103"/>
<rect x="696.2" y="148.10" width="15.2" height="49.90" fill="#d84801"/>
<rect x="696.2" y="197.70" width="15.2" height="49.90" fill="#f57520"/>
<rect x="696.2" y="247.30" width="15.2" height="49.90" fill="#fda35c"/>
<rect x="696.2" y="296.90" width="15.2" height="49.90" fill="#fdd0a2"/>
<rect x="696.2" y="346.50" width="15.2" height="49.90" fill="#feebd8"/>
<path d="M696.2,98.8 L703.3,84.8 L710.4,98.8 Z" fill="#7f2704"/>
<path d="M696.2,395.8 L703.3,409.8 L710.4,395.8 Z" fill="#fff5eb"/>
<path d="M696.2,98.5 L703.3,84.8 L710.4,98.5 L710.4,396.1 L703.3,409.8 L696.2,396.1 Z" fill="none" stroke="#000" stroke-width="1.0" stroke-linejoin="miter"/>
</g>
<g font-family="DejaVu Sans, Liberation Sans, sans-serif" fill="#000" fill-opacity="0.9">
<text x="199.1" y="22.6" font-size="20.4" textLength="237.4" lengthAdjust="spacing">TC density full season:</text>
<text x="61.5" y="47.0" font-size="20.4" textLength="514.4" lengthAdjust="spacing">years 1986, 1990, 2003, 2004, 2006, 2009, 2014</text>
<text x="58.6" y="460.6" font-size="15.2" textLength="43.6" lengthAdjust="spacing">150°E</text>
<text x="249.1" y="460.6" font-size="15.2" textLength="43.6" lengthAdjust="spacing">180°E</text>
<text x="438.7" y="460.6" font-size="15.2" textLength="49.0" lengthAdjust="spacing">150°W</text>
<text x="630.4" y="460.6" font-size="15.2" textLength="49.0" lengthAdjust="spacing">120°W</text>
</g>
<g clip-path="url(#ax)">
<text transform="translate(21.0,134.4) rotate(86.0)" x="0" y="5.5" font-size="15.2" text-anchor="middle" font-family="DejaVu Sans, Liberation Sans, sans-serif" fill="#000" fill-opacity="0.8">2.5</text>
<text transform="translate(42.7,146.3) rotate(-73.0)" x="0" y="5.5" font-size="15.2" text-anchor="middle" font-family="DejaVu Sans, Liberation Sans, sans-serif" fill="#000" fill-opacity="0.8">2.0</text>
<text transform="translate(89.8,150.9) rotate(88.0)" x="0" y="5.5" font-size="15.2" text-anchor="middle" font-family="DejaVu Sans, Liberation Sans, sans-serif" fill="#000" fill-opacity="0.8">1.5</text>
<text transform="translate(158.8,193.8) rotate(42.0)" x="0" y="5.5" font-size="15.2" text-anchor="middle" font-family="DejaVu Sans, Liberation Sans, sans-serif" fill="#000" fill-opacity="0.8">1.0</text>
<text transform="translate(205.8,249.8) rotate(60.0)" x="0" y="5.5" font-size="15.2" text-anchor="middle" font-family="DejaVu Sans, Liberation Sans, sans-serif" fill="#000" fill-opacity="0.8">0.5</text>
<text transform="translate(284.0,195.7) rotate(45.0)" x="0" y="5.5" font-size="15.2" text-anchor="middle" font-family="DejaVu Sans, Liberation Sans, sans-serif" fill="#000" fill-opacity="0.8">1.5</text>
<text transform="translate(414.4,180.8) rotate(87.0)" x="0" y="5.5" font-size="15.2" text-anchor="middle" font-family="DejaVu Sans, Liberation Sans, sans-serif" fill="#000" fill-opacity="0.8">2.0</text>
</g>
</svg>
</body></html>
